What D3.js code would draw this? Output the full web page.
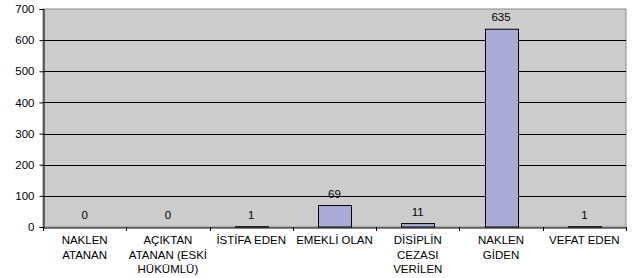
<!DOCTYPE html>
<html><head><meta charset="utf-8">
<script src="https://cdn.jsdelivr.net/npm/d3@7"></script>
<style>body{margin:0;background:#fff}svg{display:block}text{font-family:"Liberation Sans",Arial,sans-serif;font-size:11.5px;fill:#000}</style>
</head><body>
<script>
const categories = [["NAKLEN","ATANAN"],["AÇIKTAN","ATANAN (ESKİ","HÜKÜMLÜ)"],["İSTİFA EDEN"],["EMEKLİ OLAN"],["DİSİPLİN","CEZASI","VERİLEN"],["NAKLEN","GİDEN"],["VEFAT EDEN"]];
const values = [0,0,1,69,11,635,1];
const yTicks = [0,100,200,300,400,500,600,700];

const W=633,H=278, L=43, R=626, T=9, B=227;
const svg=d3.select("body").append("svg").attr("width",W).attr("height",H);
const idx=d3.range(values.length);
const xb=d3.scaleBand().domain(idx).range([L,R]);
const y=d3.scaleLinear().domain([0,700]).range([B,T]);

svg.append("rect").attr("x",L).attr("y",T).attr("width",R-L).attr("height",B-T).attr("fill","#cccccc").attr("stroke","#888").attr("stroke-width",1);
svg.append("g").selectAll("line").data(yTicks.filter(d=>d>0&&d<700)).join("line")
  .attr("x1",L).attr("x2",R).attr("y1",d=>Math.round(y(d))+0.5).attr("y2",d=>Math.round(y(d))+0.5).attr("stroke","#000");

svg.append("g").selectAll("rect").data(values).join("rect")
  .attr("x",(d,i)=>Math.round(xb(i)+xb.bandwidth()/2-16.5)+0.5).attr("width",33)
  .attr("y",d=>y(d)).attr("height",d=>B-y(d))
  .attr("fill","#aaaad6").attr("stroke","#000").attr("stroke-width",d=>d>0?1:0);

svg.append("g").selectAll("text").data(values).join("text")
  .attr("x",(d,i)=>xb(i)+xb.bandwidth()/2).attr("y",d=>y(d)-8)
  .attr("text-anchor","middle").text(d=>d);

const ya=svg.append("g").attr("transform",`translate(${L+0.5},0)`)
  .call(d3.axisLeft(y).tickValues(yTicks).tickSize(4).tickPadding(5));
ya.select(".domain").attr("stroke","#000");
ya.selectAll("line").attr("stroke","#000");
ya.selectAll("text").style("font-family","Liberation Sans, Arial").style("font-size","11.5px").attr("fill","#000");

const xa=svg.append("g").attr("transform",`translate(0,${B+0.5})`)
  .call(d3.axisBottom(xb).tickValues([]).tickSizeOuter(0));
xa.select(".domain").attr("stroke","#000");
svg.append("g").selectAll("line").data(d3.range(values.length+1)).join("line")
  .attr("x1",i=>Math.round(L+i*xb.step())+0.5).attr("x2",i=>Math.round(L+i*xb.step())+0.5)
  .attr("y1",B).attr("y2",B+4).attr("stroke","#000");

const lab=svg.append("g").selectAll("text").data(categories).join("text")
  .attr("x",(d,i)=>xb(i)+xb.bandwidth()/2).attr("y",244).attr("text-anchor","middle");
lab.selectAll("tspan").data(d=>d).join("tspan")
  .attr("x",function(){return this.parentNode.getAttribute("x")}).attr("dy",(d,i)=>i?14.5:0).text(d=>d);
</script>
</body></html>
